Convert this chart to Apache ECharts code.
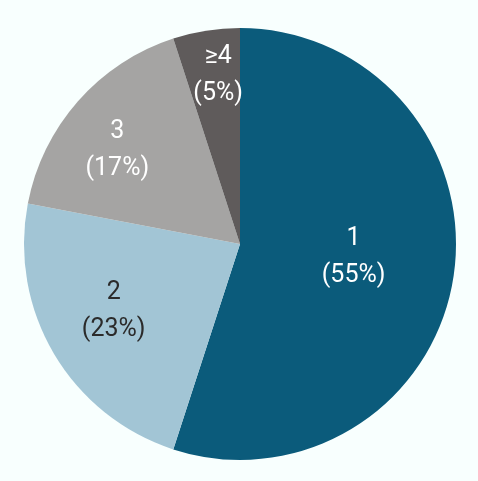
<!DOCTYPE html>
<html lang="en">
<head>
    <meta charset="UTF-8">
    <title>Pie</title>
    <script src="https://cdn.jsdelivr.net/npm/echarts@6/dist/echarts.min.js"></script>
    <style>
        html, body { margin: 0; padding: 0; background: #f8fffe; }
        #main { width: 478px; height: 481px; }
    </style>
</head>
<body>
<div id="main"></div>
<script type="text/javascript">
    // categories and shares (%)
    var categories = ['1', '2', '3', '≥4'];
    var shares = [55, 23, 17, 5];
    var colors = ['#0b5b7b', '#a2c5d5', '#a5a4a3', '#5f5b5b'];
    var labelColors = ['#ffffff', '#2b2b2b', '#ffffff', '#ffffff'];
    // label distance from centre (fraction of radius) and a small nudge in px
    var labelRadius = [0.528, 0.658, 0.720, 0.794];
    var labelShift = [[1, -5], [-4, -5], [-6, 9], [5, 1]];

    var R = 216;
    var center = [240, 244];

    var total = shares.reduce(function (a, b) { return a + b; }, 0);
    // mid angle of each slice, degrees clockwise from 12 o'clock
    var midAngle = [];
    var acc = 0;
    shares.forEach(function (v) {
        midAngle.push((acc + v / 2) / total * 360);
        acc += v;
    });

    var pieData = categories.map(function (c, i) {
        return {
            name: c,
            value: shares[i],
            itemStyle: { color: colors[i] },
            label: { color: labelColors[i] }
        };
    });

    var myChart = echarts.init(document.getElementById('main'));
    myChart.setOption({
        backgroundColor: '#f8fffe',
        animation: false,
        series: [{
            type: 'pie',
            center: center,
            radius: [0, R],
            startAngle: 90,
            clockwise: true,
            silent: true,
            itemStyle: { borderWidth: 0 },
            labelLine: { show: false },
            label: {
                show: true,
                position: 'inside',
                fontFamily: 'Roboto',
                fontSize: 25,
                lineHeight: 37,
                align: 'center',
                verticalAlign: 'middle',
                formatter: function (p) {
                    return p.name + '\n(' + p.value + '%)';
                }
            },
            labelLayout: function (p) {
                var i = p.dataIndex;
                var a = midAngle[i] * Math.PI / 180;
                var r = labelRadius[i] * R;
                return {
                    x: center[0] + r * Math.sin(a) + labelShift[i][0],
                    y: center[1] - r * Math.cos(a) + labelShift[i][1],
                    align: 'center',
                    verticalAlign: 'middle'
                };
            },
            data: pieData
        }]
    });
</script>
</body>
</html>
